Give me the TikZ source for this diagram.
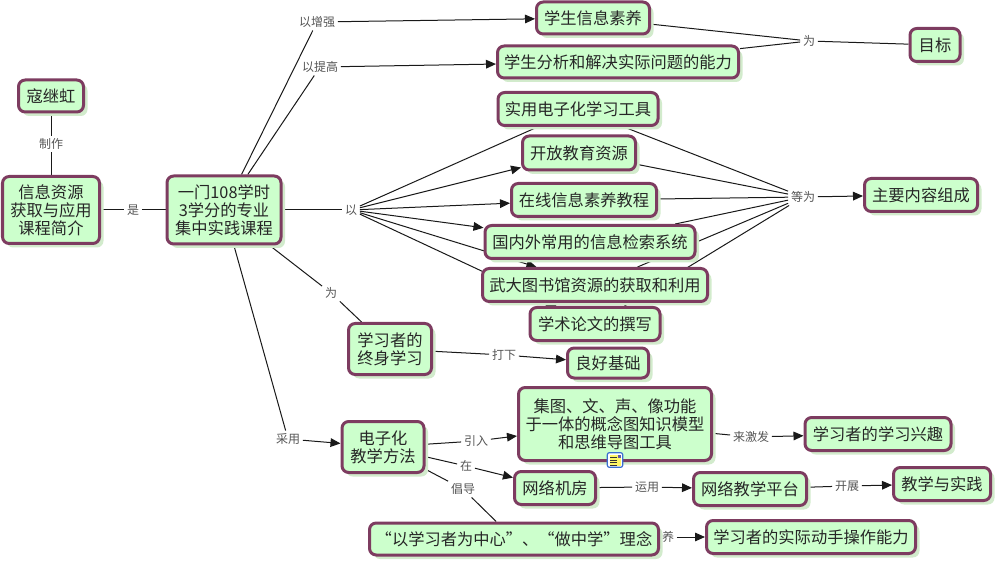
\documentclass[tikz,border=0pt]{standalone}
\usepackage{fontspec}
\setmainfont{Noto Sans CJK SC}
\usetikzlibrary{arrows.meta,shadows}
\pgfdeclarelayer{bg}
\pgfsetlayers{bg,main}
\definecolor{cfill}{HTML}{CCFFCC}
\definecolor{cborder}{HTML}{7D3C60}
\definecolor{cshadow}{HTML}{D2EBCC}
\definecolor{ltext}{HTML}{555555}
\definecolor{iconblue}{HTML}{3A6FD0}
\tikzset{
  concept/.style={draw=cborder, fill=cfill, line width=2.25pt, rounded corners=5pt,
    align=center, font=\fontsize{12.2}{13.4}\selectfont, text=black!85, inner sep=1pt,
    drop shadow={fill=cshadow, shadow xshift=3pt, shadow yshift=-3pt, opacity=1}},
  sz/.style 2 args={minimum width=#1*0.75pt, minimum height=#2*0.75pt},
  lbl/.style={font=\fontsize{9}{10}\selectfont, text=ltext, inner sep=2pt},
  link/.style={line width=0.75pt, draw=black!90},
  arr/.style={link, -{Triangle[length=7.5pt,width=6.5pt]}}
}
\begin{document}
\begin{tikzpicture}[x=0.75pt,y=-0.75pt]
\useasboundingbox (0,0) rectangle (997,563);
% concepts
\node[concept, sz={65}{32}] (n1) at (51,96) {寇继虹};
\node[concept, sz={97}{67}] (n2) at (51,210) {信息资源\\获取与应用\\课程简介};
\node[concept, sz={114}{68}] (n3) at (224,210) {一门108学时\\3学分的专业\\集中实践课程};
\node[concept, sz={113}{32}] (n4) at (593,18) {学生信息素养};
\node[concept, sz={241}{32}] (n5) at (618,62) {学生分析和解决实际问题的能力};
\node[concept, sz={160}{33}] (n6) at (578,109) {实用电子化学习工具};
\node[concept, sz={113}{34}] (n7) at (579,153) {开放教育资源};
\node[concept, sz={145}{33}] (n8) at (584,200) {在线信息素养教程};
\node[concept, sz={210}{33}] (n9) at (590,242) {国内外常用的信息检索系统};
\node[concept, sz={225}{33}] (n10) at (595,285) {武大图书馆资源的获取和利用};
\node[concept, sz={130}{33}] (n11) at (595,324) {学术论文的撰写};
\node[concept, sz={81}{30}] (n12) at (608,363) {良好基础};
\node[concept, sz={83}{51}] (n13) at (390,349) {学习者的\\终身学习};
\node[concept, sz={82}{51}] (n14) at (383,447) {电子化\\教学方法};
\node[concept, sz={193}{73}] (n15) at (615,424) {集图、文、声、像功能\\于一体的概念图知识模型\\和思维导图工具};
\node[concept, sz={81}{33}] (n16) at (555,488) {网络机房};
\node[concept, sz={289}{32}] (n17) at (514,539) {“以学习者为中心”、“做中学”理念};
\node[concept, sz={113}{33}] (n18) at (750,489) {网络教学平台};
\node[concept, sz={97}{33}] (n19) at (942,484) {教学与实践};
\node[concept, sz={146}{33}] (n20) at (878,434) {学习者的学习兴趣};
\node[concept, sz={209}{33}] (n21) at (811,537) {学习者的实际动手操作能力};
\node[concept, sz={50}{33}] (n22) at (935,45) {目标};
\node[concept, sz={113}{33}] (n23) at (921,195) {主要内容组成};
% linking phrases
\node[lbl] (lzz) at (51,144) {制作};
\node[lbl] (lshi) at (133,210) {是};
\node[lbl] (lzq) at (317,22) {以增强};
\node[lbl] (ltg) at (320,67) {以提高};
\node[lbl] (ly) at (351,210) {以};
\node[lbl] (lw1) at (331,293) {为};
\node[lbl] (ldx) at (504,355) {打下};
\node[lbl] (lcy) at (288,439) {采用};
\node[lbl] (lyr) at (476,441) {引入};
\node[lbl] (lz) at (466,466) {在};
\node[lbl] (lcd) at (463,489) {倡导};
\node[lbl] (llj) at (751,437) {来激发};
\node[lbl] (lyy) at (647,487) {运用};
\node[lbl] (lkz) at (847,486) {开展};
\node[lbl] (lw2) at (809,41) {为};
\node[lbl] (ldw) at (803,197) {等为};
% icon
\node[draw=iconblue, fill=white, line width=0.9pt, rounded corners=1.5pt,
      minimum width=11.5pt, minimum height=11pt, inner sep=0pt] (icon) at (615,460) {};
\fill[yellow!60!white] (609.5,455) rectangle (620.5,466);
\foreach \yy in {457.5,460,462.5,465}{\draw[black!80, line width=0.6pt] (610,\yy) -- (617,\yy);}
\fill[iconblue!80!red] (617.5,454.5) rectangle (621,458);
\begin{pgfonlayer}{bg}
\node[lbl] (lhid) at (662,537) {培养};
\draw[link] (n1) -- (lzz); \draw[link] (lzz) -- (n2);
\draw[link] (n2) -- (lshi); \draw[link] (lshi) -- (n3);
\draw[link] (n3) -- (lzq); \draw[arr] (lzq) -- (n4);
\draw[link] (n3) -- (ltg); \draw[arr] (ltg) -- (n5);
\draw[link] (n4) -- (lw2); \draw[link] (n5) -- (lw2); \draw[link] (lw2) -- (n22);
\draw[link] (n3) -- (ly);
\draw[link] (ly) -- (n6);
\draw[arr] (ly) -- (n7);
\draw[arr] (ly) -- (n8);
\draw[arr] (ly) -- (n9);
\draw[arr] (ly) -- (n10);
\draw[arr] (ly) -- (n11);
\foreach \c in {n6,n7,n8,n9,n10,n11}{\draw[link] (\c) -- (ldw);}
\draw[arr] (ldw) -- (n23);
\draw[link] (n3) -- (lw1); \draw[link] (lw1) -- (n13);
\draw[link] (n13) -- (ldx); \draw[arr] (ldx) -- (n12);
\draw[link] (n3) -- (lcy); \draw[arr] (lcy) -- (n14);
\draw[link] (n14) -- (lyr); \draw[arr] (lyr) -- (n15);
\draw[link] (n15) -- (llj); \draw[arr] (llj) -- (n20);
\draw[link] (n14) -- (lz); \draw[arr] (lz) -- (n16);
\draw[link] (n16) -- (lyy); \draw[arr] (lyy) -- (n18);
\draw[link] (n18) -- (lkz); \draw[arr] (lkz) -- (n19);
\draw[link] (n14) -- (lcd); \draw[link] (lcd) -- (n17);
\draw[link] (n17) -- (lhid); \draw[arr] (lhid) -- (n21);
\end{pgfonlayer}
\end{tikzpicture}
\end{document}
